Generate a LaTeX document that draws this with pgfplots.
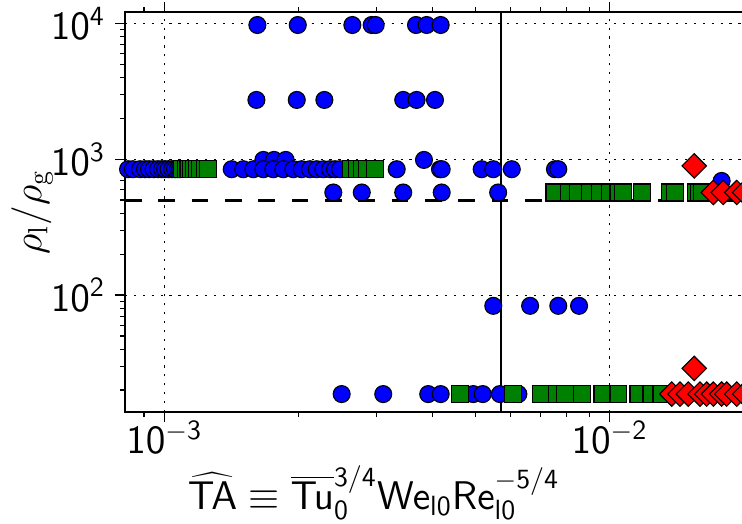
\documentclass[border=0pt]{standalone}
\usepackage{pgfplots}
\pgfplotsset{compat=1.18}
\definecolor{mplgreen}{RGB}{0,128,0}
\begin{document}
\begin{tikzpicture}
\useasboundingbox (0,0) rectangle (267.12pt,188.28pt);
\begin{axis}[
  at={(45pt,39.96pt)}, anchor=south west,
  scale only axis, width=227.74pt, height=144pt,
  xmode=log, ymode=log,
  xmin=8.159e-4, xmax=0.0215, ymin=13.8, ymax=12108,
  xtick={0.001,0.01},
  xticklabels={$\mathsf{10^{-3}}$,$\mathsf{10^{-2}}$},
  minor xtick={0.0009,0.002,0.003,0.004,0.005,0.006,0.007,0.008,0.009,0.02},
  ytick={100,1000,10000},
  yticklabels={$\mathsf{10^{2}}$,$\mathsf{10^{3}}$,$\mathsf{10^{4}}$},
  minor ytick={20,30,40,50,60,70,80,90,200,300,400,500,600,700,800,900,2000,3000,4000,5000,6000,7000,8000,9000},
  tick label style={font=\Large},
  xticklabel style={yshift=3.8pt},
  tick align=outside,
  major tick length=3.6pt, minor tick length=1.8pt,
  tick style={black, line width=0.45pt},
  grid=major,
  major grid style={black, line width=0.4pt, dash pattern=on 0.8pt off 2.4pt},
  axis line style={line width=1pt},
  clip mode=global,
]
% reference lines
\addplot[black, line width=1pt, dash pattern=on 6pt off 6pt, forget plot] coordinates {(8.159e-4,500) (0.0215,500)};
\addplot[black, line width=0.75pt, forget plot] coordinates {(5.70e-3,13.8) (5.70e-3,12108)};
% blue circles
\addplot[only marks, mark=*, mark size=3.05pt, mark options={fill=blue, draw=black, line width=0.4pt}] coordinates {
 (1.618e-3,9716) (1.994e-3,9716) (2.644e-3,9716) (2.922e-3,9716) (2.983e-3,9716) (3.675e-3,9716) (3.884e-3,9716) (4.175e-3,9716)
 (1.610e-3,2730) (1.984e-3,2730) (2.288e-3,2730) (3.440e-3,2730) (3.686e-3,2730) (4.054e-3,2730)
 (8.29e-4,844) (8.50e-4,844) (8.82e-4,844) (9.05e-4,844) (9.24e-4,844) (9.46e-4,844) (9.68e-4,844) (9.88e-4,844)
 (1.004e-3,844) (1.022e-3,844) (1.041e-3,844) (1.057e-3,844) (1.073e-3,844) (1.085e-3,844)
 (1.417e-3,844) (1.504e-3,844) (1.585e-3,844)
 (1.669e-3,988) (1.764e-3,988) (1.873e-3,988)
 (1.669e-3,844) (1.757e-3,844) (1.850e-3,844) (1.949e-3,844) (2.035e-3,844) (2.124e-3,844) (2.199e-3,844)
 (2.276e-3,844) (2.356e-3,844) (2.418e-3,844) (2.481e-3,844)
 (3.326e-3,844) (3.83e-3,988) (4.160e-3,844) (4.197e-3,844) (5.16e-3,844) (5.48e-3,844) (6.03e-3,844) (7.54e-3,844) (7.67e-3,844)
 (1.785e-2,692)
 (2.396e-3,569) (2.776e-3,569) (3.44e-3,569) (4.197e-3,569) (5.62e-3,569)
 (5.48e-3,83.4) (6.63e-3,83.4) (7.67e-3,83.4) (8.54e-3,83.4)
 (2.502e-3,18.7) (3.102e-3,18.7) (3.915e-3,18.7) (4.175e-3,18.7) (4.94e-3,18.7) (5.19e-3,18.7) (5.67e-3,18.7) (6.24e-3,18.7)
};
% green squares
\addplot[only marks, mark=square*, mark size=3.05pt, mark options={fill=mplgreen, draw=black, line width=0.4pt}] coordinates {
 (1.095e-3,844) (1.117e-3,844) (1.133e-3,844) (1.149e-3,844) (1.167e-3,844) (1.183e-3,844) (1.204e-3,844) (1.235e-3,844) (1.255e-3,844)
 (2.629e-3,844) (2.706e-3,844) (2.777e-3,844) (2.850e-3,844) (2.970e-3,844)
 (7.52e-3,569) (8.09e-3,569) (8.48e-3,569) (9.05e-3,569) (9.53e-3,569) (1.002e-2,569) (1.047e-2,569) (1.074e-2,569) (1.181e-2,569)
 (1.368e-2,569) (1.403e-2,569) (1.562e-2,569) (1.584e-2,569) (1.609e-2,569)
 (4.613e-3,18.7) (6.08e-3,18.7) (7.005e-3,18.7) (7.61e-3,18.7) (7.95e-3,18.7) (8.66e-3,18.7) (9.64e-3,18.7)
 (1.047e-2,18.7) (1.161e-2,18.7) (1.242e-2,18.7) (1.308e-2,18.7)
};
% red diamonds
\addplot[only marks, mark=square*, mark size=3.1pt, mark options={rotate=45, fill=red, draw=black, line width=0.4pt}] coordinates {
 (1.549e-2,893) (1.710e-2,569) (1.800e-2,569) (1.930e-2,569) (2.01e-2,569)
 (1.549e-2,28.9)
 (1.379e-2,18.7) (1.439e-2,18.7) (1.502e-2,18.7) (1.596e-2,18.7) (1.652e-2,18.7) (1.710e-2,18.7) (1.785e-2,18.7) (1.832e-2,18.7) (1.930e-2,18.7) (2.01e-2,18.7)
};
\end{axis}
\node[rotate=90, font=\Large] at (11.52pt,111.96pt) {$\rho_{\mathrm{l}}/\rho_{\mathrm{g}}$};
\node[anchor=base, font=\Large] at (134.5pt,4.9pt) {$\widehat{\mathsf{TA}}\equiv\overline{\mathsf{Tu}}_{\mathsf{0}}^{\mathsf{3/4}}\mathsf{We}_{\mathsf{l0}}\mathsf{Re}_{\mathsf{l0}}^{\mathsf{-5/4}}$};
\end{tikzpicture}
\end{document}
